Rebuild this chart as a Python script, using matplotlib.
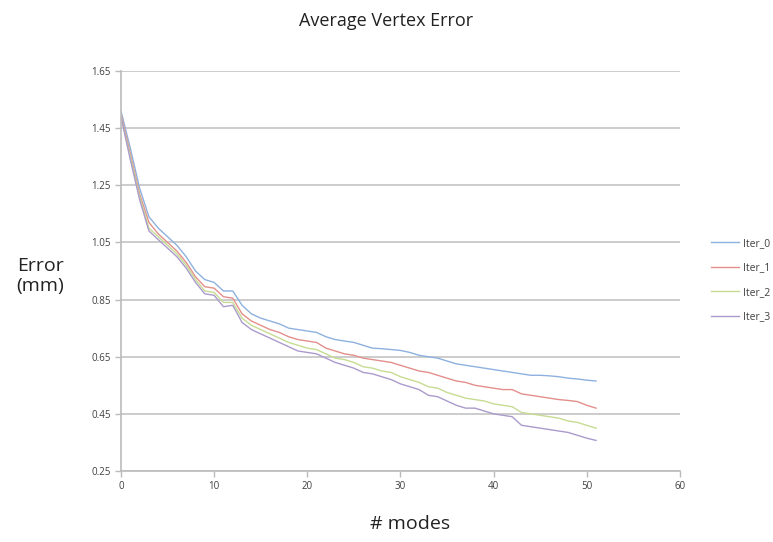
import matplotlib.pyplot as plt

modes = list(range(52))

iter_0 = [1.51, 1.38, 1.24, 1.14, 1.10, 1.07, 1.04, 1.00, 0.95, 0.92,
          0.91, 0.88, 0.88, 0.83, 0.80, 0.785, 0.775, 0.765, 0.75, 0.745,
          0.74, 0.735, 0.72, 0.71, 0.705, 0.70, 0.69, 0.68, 0.678, 0.675,
          0.672, 0.665, 0.655, 0.65, 0.645, 0.635, 0.625, 0.62, 0.615, 0.61,
          0.605, 0.60, 0.595, 0.59, 0.585, 0.585, 0.583, 0.58, 0.575, 0.572,
          0.568, 0.565]
iter_1 = [1.50, 1.36, 1.22, 1.12, 1.08, 1.05, 1.02, 0.98, 0.93, 0.895,
          0.89, 0.86, 0.855, 0.80, 0.775, 0.76, 0.745, 0.735, 0.72, 0.71,
          0.705, 0.70, 0.68, 0.67, 0.66, 0.655, 0.645, 0.64, 0.635, 0.63,
          0.62, 0.61, 0.60, 0.595, 0.585, 0.575, 0.565, 0.56, 0.55, 0.545,
          0.54, 0.535, 0.535, 0.52, 0.515, 0.51, 0.505, 0.50, 0.497, 0.493,
          0.48, 0.47]
iter_2 = [1.49, 1.35, 1.21, 1.10, 1.07, 1.04, 1.01, 0.97, 0.92, 0.88,
          0.875, 0.84, 0.84, 0.785, 0.76, 0.745, 0.73, 0.715, 0.70, 0.69,
          0.68, 0.675, 0.66, 0.645, 0.64, 0.63, 0.615, 0.61, 0.60, 0.595,
          0.58, 0.57, 0.56, 0.545, 0.54, 0.525, 0.515, 0.505, 0.50, 0.495,
          0.485, 0.48, 0.475, 0.455, 0.45, 0.445, 0.44, 0.435, 0.425, 0.42,
          0.41, 0.40]
iter_3 = [1.49, 1.34, 1.20, 1.09, 1.06, 1.03, 1.00, 0.96, 0.91, 0.87,
          0.865, 0.825, 0.83, 0.77, 0.745, 0.73, 0.715, 0.70, 0.685, 0.67,
          0.665, 0.66, 0.645, 0.63, 0.62, 0.61, 0.595, 0.59, 0.58, 0.57,
          0.555, 0.545, 0.535, 0.515, 0.51, 0.495, 0.48, 0.47, 0.47, 0.46,
          0.45, 0.445, 0.44, 0.41, 0.405, 0.40, 0.395, 0.39, 0.385, 0.375,
          0.365, 0.357]

labels = ['Iter_0', 'Iter_1', 'Iter_2', 'Iter_3']
colors = ['#8eb1de', '#e38f8c', '#c6dc92', '#ab9bcc']
y_ticks = [0.25, 0.45, 0.65, 0.85, 1.05, 1.25, 1.45, 1.65]
x_ticks = [0, 10, 20, 30, 40, 50, 60]

plt.rcParams['font.family'] = ['Open Sans', 'DejaVu Sans']

fig = plt.figure(figsize=(7.73, 5.42), dpi=100)
ax = fig.add_axes([0.1565, 0.131, 0.723, 0.738])

for series, lab, col in zip([iter_0, iter_1, iter_2, iter_3], labels, colors):
    ax.plot(modes, series, color=col, linewidth=1.0, label=lab)

ax.set_xlim(0, 60)
ax.set_ylim(0.25, 1.65)
ax.set_xticks(x_ticks)
ax.set_yticks(y_ticks)
ax.set_yticklabels([f'{v:.2f}' for v in y_ticks])
ax.grid(axis='y', color='#c8c8c8', linewidth=1.3)
ax.set_axisbelow(True)
for side in ['top', 'right']:
    ax.spines[side].set_visible(False)
for side in ['left', 'bottom']:
    ax.spines[side].set_color('#bbbbbb')
    ax.spines[side].set_linewidth(1.2)
ax.tick_params(axis='both', colors='#bbbbbb', labelcolor='#404040',
               labelsize=7, length=4, width=1)

fig.text(0.5, 0.962, 'Average Vertex Error', ha='center', va='center',
         fontsize=13, color='#222222')
fig.text(0.052, 0.49, 'Error\n(mm)', ha='center', va='center',
         fontsize=14, color='#222222', linespacing=1.15)
fig.text(0.531, 0.033, '# modes', ha='center', va='center',
         fontsize=14, color='#222222')

fig.legend(loc='center left', bbox_to_anchor=(0.908, 0.483), frameon=False,
           fontsize=7.5, handlelength=2.7, handletextpad=0.3,
           labelspacing=1.3, labelcolor='#404040')

fig.savefig('out.png', dpi=100)
